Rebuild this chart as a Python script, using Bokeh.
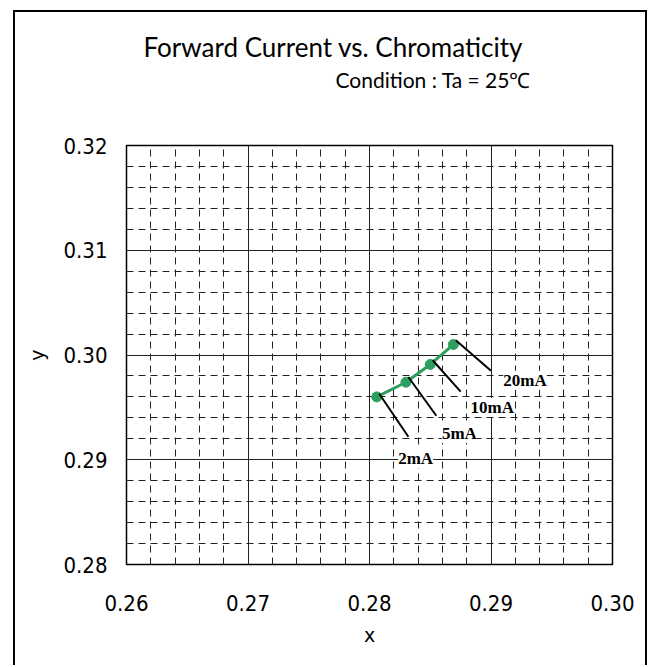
from bokeh.plotting import figure
from bokeh.models import (ColumnDataSource, LabelSet, Title, SingleIntervalTicker,
                          Range1d, PrintfTickFormatter)
from bokeh.embed import file_html
from bokeh.resources import INLINE

# ---- data ----
cie_x = [0.2806, 0.2830, 0.2850, 0.2869]
cie_y = [0.2960, 0.2974, 0.2991, 0.3010]
currents = ["2mA", "5mA", "10mA", "20mA"]

# leader-line ends and label anchor positions (annotation placement)
lead_x0 = [0.2808, 0.2832, 0.2852, 0.2871]
lead_y0 = [0.2963, 0.2979, 0.2995, 0.3014]
lead_x1 = [0.2832, 0.2855, 0.2875, 0.2900]
lead_y1 = [0.2922, 0.2942, 0.2965, 0.2985]
lab_x = [0.2838, 0.2874, 0.2901, 0.2928]
lab_y = [0.2901, 0.2925, 0.2950, 0.2976]

# page offset of the figure inside its outer frame
OFF_X, OFF_Y, BW = 13, 10, 2
W, H = 634, 655
p = figure(width=W, height=H, output_backend="svg", toolbar_location=None,
           title=None,
           x_range=Range1d(0.26, 0.30), y_range=Range1d(0.28, 0.32),
           min_border_left=126 - OFF_X - BW, min_border_right=W - (612 - OFF_X - BW),
           min_border_top=145 - OFF_Y - BW, min_border_bottom=H - (564 - OFF_Y - BW))
p.styles = {"margin-left": f"{OFF_X}px", "margin-top": f"{OFF_Y}px",
            "border-left": f"{BW}px solid black", "border-top": f"{BW}px solid black",
            "border-right": f"{BW}px solid black"}
p.background_fill_color = "white"
p.border_fill_color = "white"
p.outline_line_color = "black"
p.outline_line_width = 1.5

tick_font = "DejaVu Sans Condensed, Roboto"
for ax in (p.xaxis[0], p.yaxis[0]):
    ax.ticker = SingleIntervalTicker(interval=0.01, num_minor_ticks=5)
    ax.formatter = PrintfTickFormatter(format="%.2f")
    ax.axis_line_color = None
    ax.major_tick_line_color = None
    ax.minor_tick_line_color = None
    ax.major_label_text_font = tick_font
    ax.major_label_text_font_size = "22px"
    ax.major_label_text_color = "black"
    ax.axis_label_text_font = "DejaVu Sans"
    ax.axis_label_text_font_style = "normal"
    ax.axis_label_text_font_size = "19px"
    ax.axis_label_text_color = "black"
p.xaxis.major_label_standoff = 24
p.yaxis.major_label_standoff = 13
p.xaxis.axis_label = "x"
p.yaxis.axis_label = "y"
p.xaxis.axis_label_standoff = 10
p.yaxis.axis_label_standoff = 12

for g in (p.xgrid[0], p.ygrid[0]):
    g.ticker = SingleIntervalTicker(interval=0.01, num_minor_ticks=5)
    g.grid_line_color = "#222222"
    g.grid_line_width = 1
    g.minor_grid_line_color = "#222222"
    g.minor_grid_line_width = 1
    g.minor_grid_line_dash = "7 5"

src = ColumnDataSource(dict(x=cie_x, y=cie_y))
green = "#2e9e5e"
p.line("x", "y", source=src, line_color=green, line_width=3)
p.scatter("x", "y", source=src, size=10, fill_color=green, line_color=green)

lead = ColumnDataSource(dict(x0=lead_x0, y0=lead_y0, x1=lead_x1, y1=lead_y1))
p.segment("x0", "y0", "x1", "y1", source=lead, line_color="black", line_width=2)

lab = ColumnDataSource(dict(x=lab_x, y=lab_y, t=currents))
p.add_layout(LabelSet(x="x", y="y", text="t", source=lab,
                      text_font="Liberation Serif", text_font_style="bold",
                      text_font_size="17px", text_align="center",
                      text_baseline="middle", background_fill_color="white",
                      text_color="black"))

# titles, stacked upward from the frame: spacer, condition, main title
spacer = Title(text=" ", text_font_size="10px", standoff=39)
cond = Title(text="Condition : Ta = 25\u2103", text_font="Lato",
             text_font_size="21px", text_font_style="normal", align="left",
             offset=335 - 126, standoff=4, text_color="black")
main = Title(text="Forward Current vs. Chromaticity", text_font="Lato",
             text_font_size="26px", text_font_style="normal", align="left",
             offset=143 - 126, standoff=0, text_color="black")
p.add_layout(spacer, "above")
p.add_layout(cond, "above")
p.add_layout(main, "above")

open("out.html", "w").write(file_html(p, INLINE))
